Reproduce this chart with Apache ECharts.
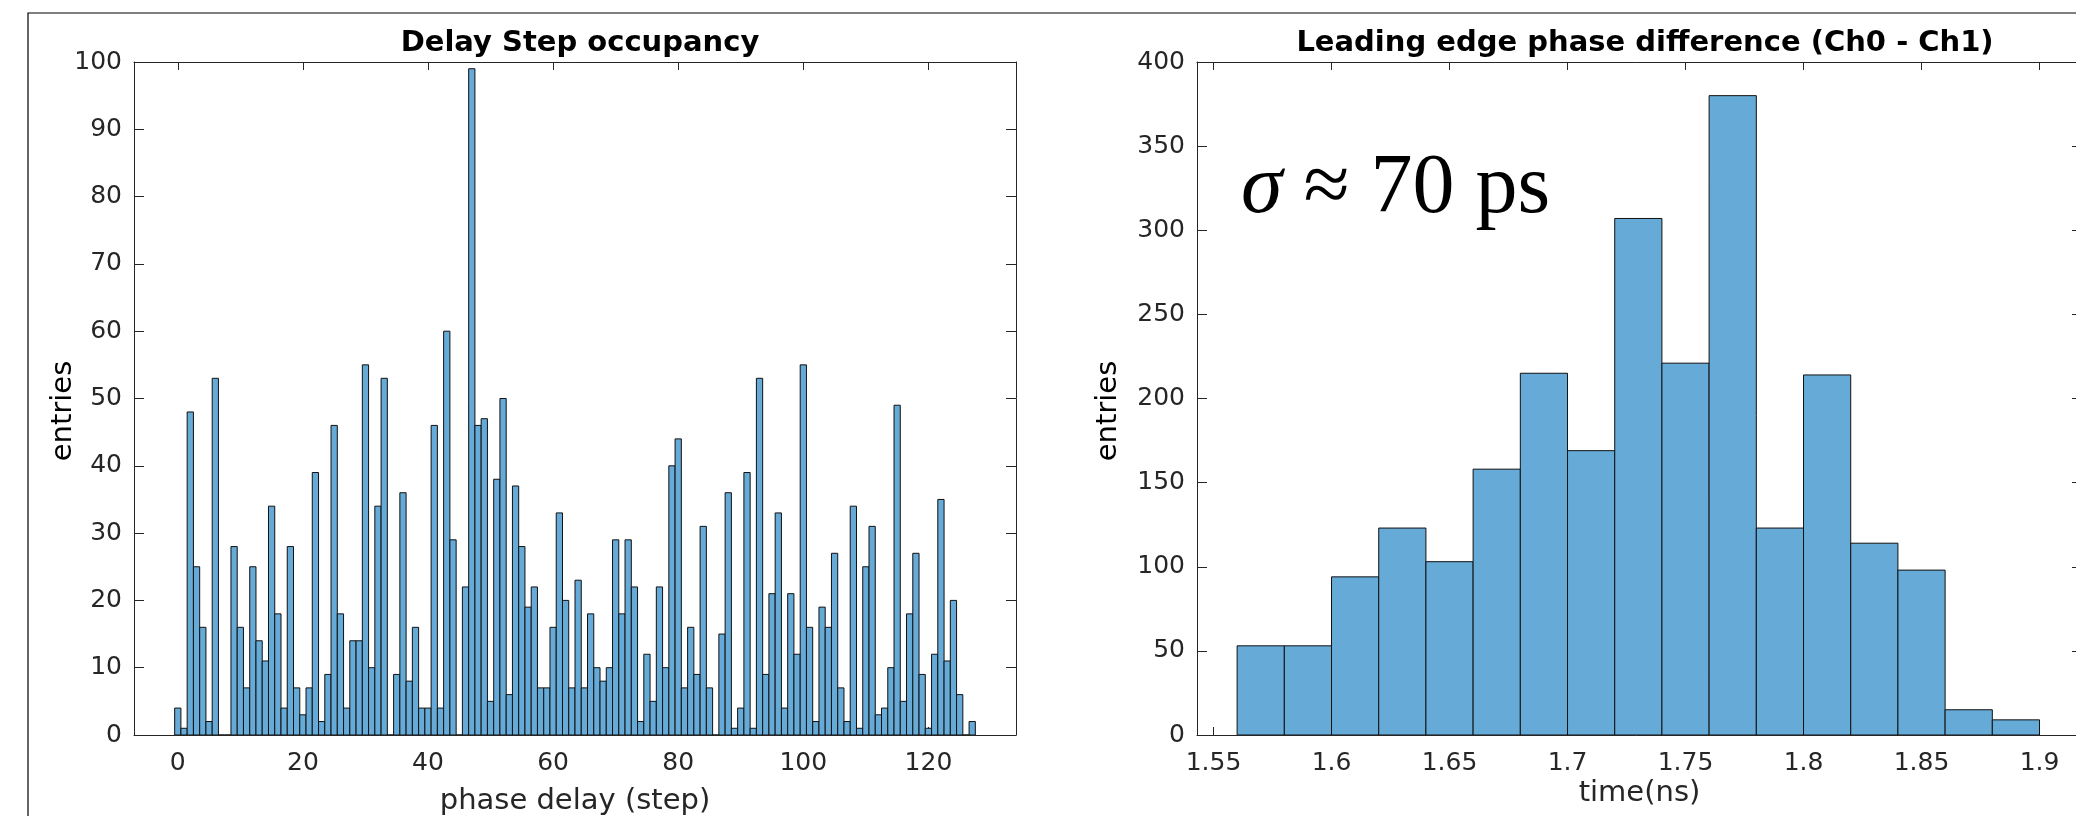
<!DOCTYPE html>
<html>
<head>
<meta charset="utf-8">
<title>Delay step occupancy / leading edge phase difference</title>
<script src="https://cdn.jsdelivr.net/npm/echarts@6/dist/echarts.min.js"></script>
<style>
html, body { margin: 0; padding: 0; background: #fff; }
#chart { width: 2076px; height: 816px; }
</style>
</head>
<body>
<div id="chart"></div>
<script>

// entries per phase delay step, steps 0 .. 127
var step_counts = [
	4, 1, 48, 25, 16, 2, 53, 0, 0, 28,
	16, 7, 25, 14, 11, 34, 18, 4, 28, 7,
	3, 7, 39, 2, 9, 46, 18, 4, 14, 14,
	55, 10, 34, 53, 0, 9, 36, 8, 16, 4,
	4, 46, 4, 60, 29, 0, 22, 99, 46, 47,
	5, 38, 50, 6, 37, 28, 19, 22, 7, 7,
	16, 33, 20, 7, 23, 7, 18, 10, 8, 10,
	29, 18, 29, 22, 2, 12, 5, 22, 10, 40,
	44, 7, 16, 9, 31, 7, 0, 15, 36, 1,
	4, 39, 1, 53, 9, 21, 33, 4, 21, 12,
	55, 16, 2, 19, 16, 27, 7, 2, 34, 1,
	25, 31, 3, 4, 10, 49, 5, 18, 27, 9,
	1, 12, 35, 11, 20, 6, 0, 2
]
var step_ticks = [0, 20, 40, 60, 80, 100, 120]

// leading edge phase difference histogram (ns)
var bin_edges = [1.56, 1.58, 1.60, 1.62, 1.64, 1.66, 1.68, 1.70, 1.72,
	1.74, 1.76, 1.78, 1.80, 1.82, 1.84, 1.86, 1.88, 1.90]
var bin_counts = [53, 53, 94, 123, 103, 158, 215, 169, 307, 221, 380, 123, 214, 114, 98, 15, 9]
var time_ticks = [1.55, 1.6, 1.65, 1.7, 1.75, 1.8, 1.85, 1.9]

var sigma_note = '{s|σ} ≈ 70 ps'

var FACE = 'rgb(102,170,215)',
	EDGE = '#111',
	AXIS = '#262626',
	SANS = '"DejaVu Sans", sans-serif',
	SERIF = '"Liberation Serif", serif'

function hist_item (params, api) {
	var top_left = api.coord([api.value(0), api.value(2)])
	var bottom_right = api.coord([api.value(1), 0])
	return {
		type: 'rect',
		shape: {
			x: top_left[0],
			y: top_left[1],
			width: bottom_right[0] - top_left[0],
			height: bottom_right[1] - top_left[1]
		},
		style: {fill: FACE, stroke: EDGE, lineWidth: 1}
	}
}

function x_axes (grid, min, max, ticks, name, gap) {
	var base = {
		type: 'value',
		gridIndex: grid,
		min: min,
		max: max,
		axisLine: {show: true, onZero: false, lineStyle: {color: AXIS, width: 1}},
		axisTick: {show: true, inside: true, length: 8, customValues: ticks, lineStyle: {color: AXIS}},
		splitLine: {show: false}
	}
	var bottom = Object.assign({}, base, {
		position: 'bottom',
		name: name,
		nameLocation: 'middle',
		nameGap: gap,
		nameMoveOverlap: false,
		nameTextStyle: {fontFamily: SANS, fontSize: 29, color: AXIS},
		axisLabel: {customValues: ticks, margin: 16, fontFamily: SANS, fontSize: 25, color: AXIS}
	})
	var top = Object.assign({}, base, {
		position: 'top',
		axisLabel: {show: false}
	})
	return [bottom, top]
}

function y_axes (grid, max, interval, gap) {
	var base = {
		type: 'value',
		gridIndex: grid,
		min: 0,
		max: max,
		interval: interval,
		axisLine: {show: true, onZero: false, lineStyle: {color: AXIS, width: 1}},
		axisTick: {show: true, inside: true, length: 10, lineStyle: {color: AXIS}},
		splitLine: {show: false}
	}
	var left = Object.assign({}, base, {
		position: 'left',
		name: 'entries',
		nameLocation: 'middle',
		nameGap: gap,
		nameMoveOverlap: false,
		nameTextStyle: {fontFamily: SANS, fontSize: 29, color: '#000', padding: [0, 25, 0, 0]},
		axisLabel: {margin: 12, fontFamily: SANS, fontSize: 25, color: AXIS}
	})
	var right = Object.assign({}, base, {
		position: 'right',
		axisLabel: {show: false}
	})
	return [left, right]
}

function main () {
	var chart = echarts.init(document.getElementById('chart'), null, {renderer: 'canvas'})

	var step_data = step_counts.map(function (v, i) {
		return [i - 0.5, i + 0.5, v]
	})
	var time_data = bin_counts.map(function (v, i) {
		return [bin_edges[i], bin_edges[i + 1], v]
	})

	var xa = x_axes(0, -7, 134, step_ticks, 'phase delay (step)', 52)
		.concat(x_axes(1, 1.543, 1.918, time_ticks, 'time(ns)', 44))
	var ya = y_axes(0, 100, 10, 56).concat(y_axes(1, 400, 50, 74))

	var option = {
		animation: false,
		backgroundColor: '#fff',
		title: [{
			text: 'Delay Step occupancy',
			left: 575,
			top: 24,
			textAlign: 'center',
			textStyle: {fontFamily: SANS, fontSize: 29, fontWeight: 'bold', color: '#000'}
		}, {
			text: 'Leading edge phase difference (Ch0 - Ch1)',
			left: 1640,
			top: 24,
			textAlign: 'center',
			textStyle: {fontFamily: SANS, fontSize: 29, fontWeight: 'bold', color: '#000'}
		}, {
			text: sigma_note,
			left: 1236,
			top: 143,
			textStyle: {
				fontFamily: SERIF,
				fontSize: 84,
				fontWeight: 'normal',
				color: '#000',
				rich: {
					s: {fontFamily: SERIF, fontSize: 84, fontStyle: 'italic', color: '#000'}
				}
			}
		}],
		grid: [
			{left: 134, right: 1060, top: 62, bottom: 81, containLabel: false, outerBoundsMode: 'none'},
			{left: 1197, right: -6, top: 62, bottom: 81, containLabel: false, outerBoundsMode: 'none'}
		],
		xAxis: xa,
		yAxis: ya,
		series: [{
			name: 'Delay Step occupancy',
			type: 'custom',
			xAxisIndex: 0,
			yAxisIndex: 0,
			renderItem: hist_item,
			encode: {x: [0, 1], y: 2},
			clip: true,
			data: step_data
		}, {
			name: 'Leading edge phase difference',
			type: 'custom',
			xAxisIndex: 2,
			yAxisIndex: 2,
			renderItem: hist_item,
			encode: {x: [0, 1], y: 2},
			clip: true,
			data: time_data
		}],
		graphic: [{
			type: 'polyline',
			silent: true,
			shape: {points: [[28, 830], [28, 13], [2090, 13]]},
			style: {stroke: '#000', lineWidth: 1.2, fill: null}
		}]
	}

	chart.setOption(option)
}

main()
</script>
</body>
</html>
